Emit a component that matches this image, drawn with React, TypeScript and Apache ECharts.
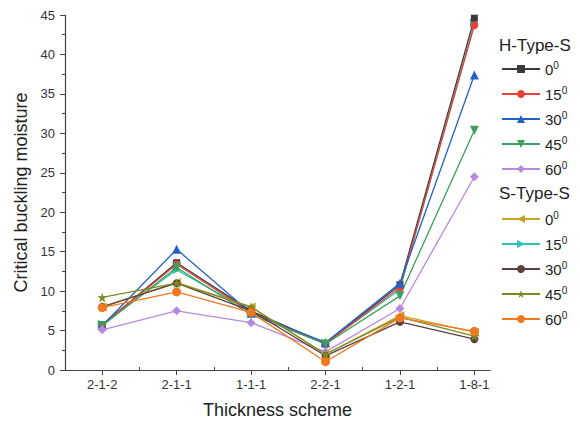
import React, { useEffect, useRef } from "react";
import * as echarts from "echarts";

// Thickness schemes along the x axis (positions 1..6)
const schemes = ["2-1-2", "2-1-1", "1-1-1", "2-2-1", "1-2-1", "1-8-1"];

// H-Type-S series
const h0 = [5.7, 13.6, 7.5, 3.3, 10.8, 44.6];
const h15 = [5.7, 13.4, 7.3, 3.3, 10.5, 43.7];
const h30 = [5.6, 15.3, 7.2, 3.5, 11.0, 37.4];
const h45 = [5.6, 13.0, 7.0, 3.3, 9.4, 30.4];
const h60 = [5.1, 7.5, 6.0, 2.3, 7.8, 24.5];

// S-Type-S series
const s0 = [8.0, 11.1, 8.0, 2.0, 6.9, 4.8];
const s15 = [5.8, 12.7, 7.4, 3.4, 10.2, 44.0];
const s30 = [8.0, 11.0, 7.5, 1.8, 6.1, 3.9];
const s45 = [9.2, 11.0, 8.0, 2.0, 6.7, 4.3];
const s60 = [7.9, 9.9, 7.3, 1.05, 6.6, 4.9];

const yTicks = [0, 5, 10, 15, 20, 25, 30, 35, 40, 45];

const STAR =
  "path://M0,-1L0.225,-0.309L0.951,-0.309L0.363,0.118L0.588,0.809L0,0.382L-0.588,0.809L-0.363,0.118L-0.951,-0.309L-0.225,-0.309Z";

type Def = {
  name: string;
  data: number[];
  color: string;
  symbol: string;
  rotate?: number;
  size?: number;
  z?: number;
};

const hDefs: Def[] = [
  { name: "H 0", data: h0, color: "#3b3b3b", symbol: "rect", size: 7 },
  { name: "H 15", data: h15, color: "#e8403a", symbol: "circle", size: 8 },
  { name: "H 30", data: h30, color: "#2262c6", symbol: "triangle", size: 9 },
  { name: "H 45", data: h45, color: "#3c9f5a", symbol: "triangle", rotate: 180, size: 9 },
  { name: "H 60", data: h60, color: "#b78ae0", symbol: "diamond", size: 9 },
];

const sDefs: Def[] = [
  { name: "S 0", data: s0, color: "#c9a226", symbol: "triangle", rotate: 90, size: 9 },
  { name: "S 15", data: s15, color: "#2ec4b4", symbol: "triangle", rotate: -90, size: 9, z: 2 },
  { name: "S 30", data: s30, color: "#5c4040", symbol: "circle", size: 8 },
  { name: "S 45", data: s45, color: "#7d8a22", symbol: STAR, size: 10 },
  { name: "S 60", data: s60, color: "#f0781e", symbol: "circle", size: 9 },
];

const FONT = "Liberation Sans, Arial, sans-serif";

function buildSeries(defs: Def[]) {
  return defs.map((d) => ({
    name: d.name,
    type: "line",
    data: d.data.map((v, i) => [i + 1, v]),
    symbol: d.symbol,
    symbolSize: d.size ?? 8,
    symbolRotate: d.rotate ?? 0,
    lineStyle: { color: d.color, width: 1.3 },
    itemStyle: { color: d.color },
    z: d.z ?? 3,
  }));
}

const legendText = (name: string) => `{a|${name.split(" ")[1]}}{s|0}`;

const legendRich = {
  a: { fontSize: 15, fontFamily: FONT, color: "#222" },
  s: { fontSize: 10, fontFamily: FONT, color: "#222", padding: [0, 0, 8, 0] },
};

const legendBase = {
  orient: "vertical",
  left: 501,
  padding: 0,
  itemWidth: 38,
  itemHeight: 10,
  itemGap: 8.5,
  formatter: legendText,
  textStyle: { rich: legendRich },
};

export default function App() {
  const ref = useRef<HTMLDivElement>(null);

  useEffect(() => {
    if (!ref.current) return;
    const chart = echarts.init(ref.current, undefined, { renderer: "svg" });
    const axisColor = "#444";
    chart.setOption({
      animation: false,
      backgroundColor: "#ffffff",
      grid: { left: 65, right: 90, top: 15, bottom: 57 },
      xAxis: [
        {
          type: "value",
          min: 0.5,
          max: 6.21,
          name: "Thickness scheme",
          nameLocation: "middle",
          nameGap: 31,
          nameTextStyle: { fontSize: 18, fontFamily: FONT, color: "#222" },
          axisLine: { show: true, lineStyle: { color: axisColor, width: 1.2 } },
          axisTick: {
            show: true,
            length: 5,
            lineStyle: { color: axisColor },
            customValues: [1, 2, 3, 4, 5, 6],
          },
          axisLabel: {
            customValues: [1, 2, 3, 4, 5, 6],
            formatter: (v: number) => schemes[Math.round(v) - 1] ?? "",
            fontSize: 13,
            fontFamily: FONT,
            color: "#333",
            margin: 8,
          },
          splitLine: { show: false },
        },
        {
          // minor ticks between schemes
          type: "value",
          position: "bottom",
          min: 0.5,
          max: 6.21,
          axisLine: { show: false },
          axisTick: {
            show: true,
            inside: true,
            length: 3,
            lineStyle: { color: axisColor },
            customValues: [1.5, 2.5, 3.5, 4.5, 5.5],
          },
          axisLabel: { show: false },
          splitLine: { show: false },
        },
      ],
      yAxis: {
        type: "value",
        min: 0,
        max: 45,
        interval: 5,
        name: "Critical buckling moisture",
        nameLocation: "middle",
        nameGap: 34,
        nameTextStyle: { fontSize: 18, fontFamily: FONT, color: "#222" },
        axisLine: { show: true, lineStyle: { color: axisColor, width: 1.2 } },
        axisTick: { show: true, length: 5, lineStyle: { color: axisColor } },
        minorTick: { show: true, splitNumber: 2, length: 3, lineStyle: { color: axisColor } },
        axisLabel: {
          fontSize: 13,
          fontFamily: FONT,
          color: "#333",
          margin: 10,
          customValues: yTicks,
        },
        splitLine: { show: false },
        minorSplitLine: { show: false },
      },
      legend: [
        { ...legendBase, top: 60, data: hDefs.map((d) => d.name) },
        { ...legendBase, top: 210, data: sDefs.map((d) => d.name) },
      ],
      graphic: [
        {
          type: "text",
          left: 499,
          top: 37,
          style: { text: "H-Type-S", fontSize: 17, fontFamily: FONT, fill: "#222" },
        },
        {
          type: "text",
          left: 499,
          top: 185,
          style: { text: "S-Type-S", fontSize: 17, fontFamily: FONT, fill: "#222" },
        },
      ],
      series: [...buildSeries(hDefs), ...buildSeries(sDefs)],
    });
    return () => chart.dispose();
  }, []);

  return (
    <div
      ref={ref}
      style={{ position: "fixed", left: 0, top: 0, width: 580, height: 427 }}
    />
  );
}
